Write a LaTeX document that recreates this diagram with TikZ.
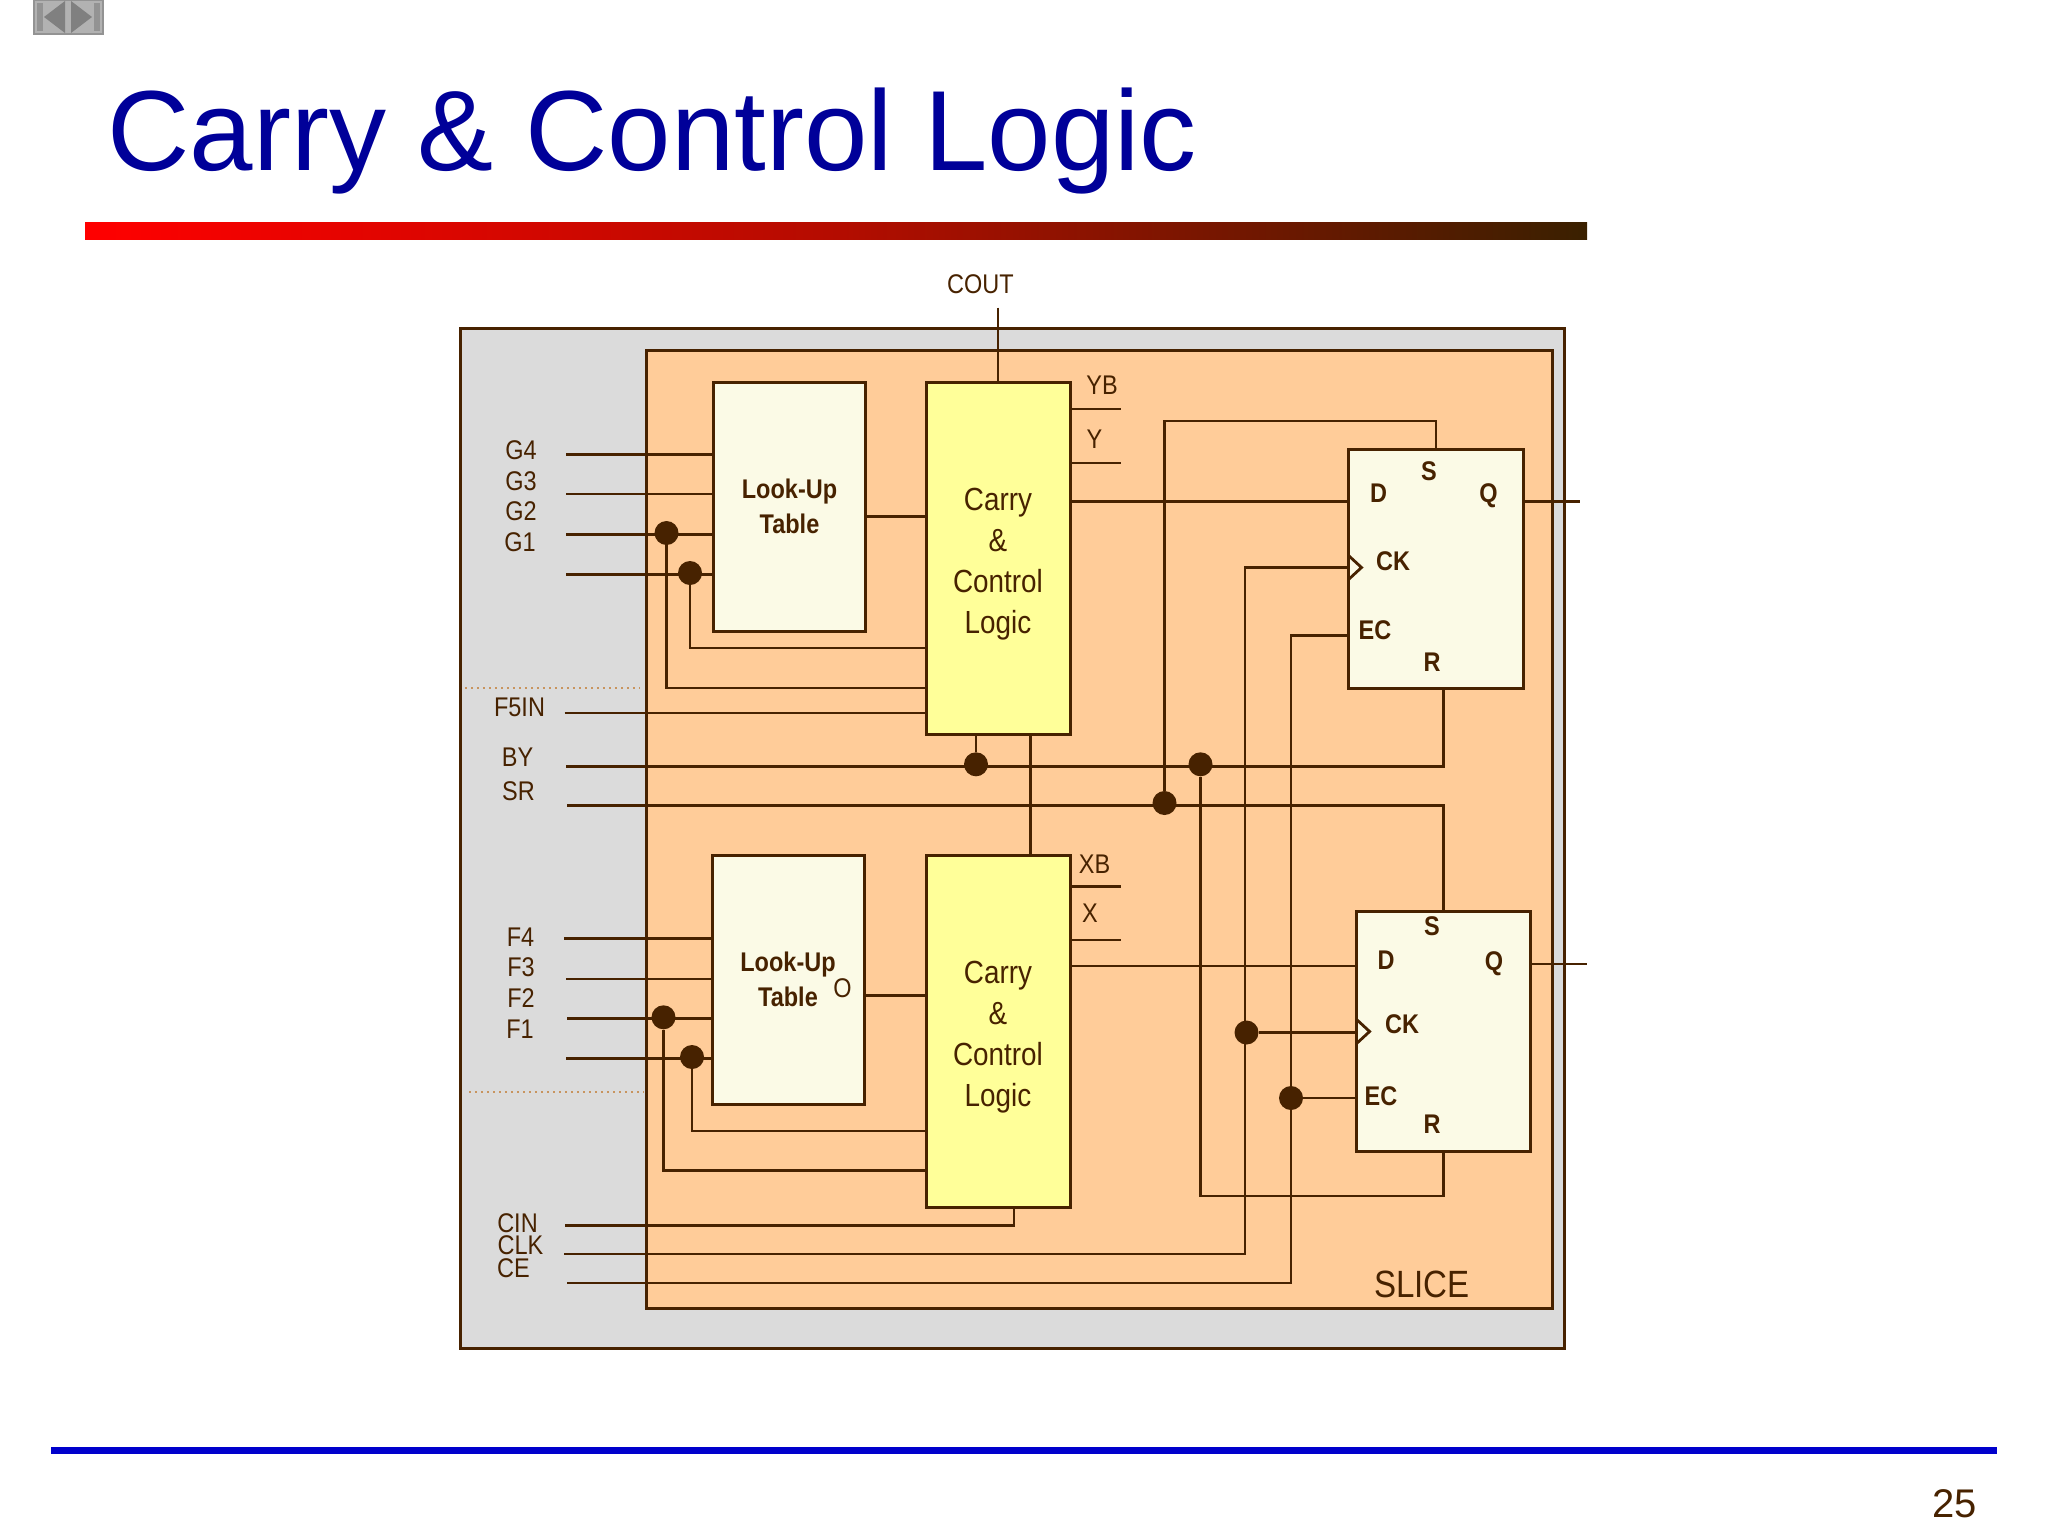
\documentclass[tikz,border=0pt]{standalone}
\usepackage{fontspec}
\setmainfont{Liberation Sans}
\newfontfamily\slimfont[FakeStretch=0.87]{Liberation Sans}
\usetikzlibrary{positioning}
\definecolor{wirecol}{HTML}{472200}
\definecolor{titlecol}{HTML}{000099}
\definecolor{rulecol}{HTML}{0000CC}
\definecolor{darkbar}{HTML}{3A2000}
\definecolor{dotcol}{HTML}{C8945E}
\definecolor{lutcol}{HTML}{FBFAE6}
\definecolor{carrycol}{HTML}{FFFF99}
\definecolor{slicecol}{HTML}{FFCC99}
\tikzset{
  wire/.style={color=wirecol,line width=1.4pt},
  frame/.style={draw=wirecol,line width=1.5pt},
  block/.style={draw=wirecol,line width=1.5pt,outer sep=0pt,inner sep=0pt,align=center,text=wirecol},
  lutbox/.style={block,fill=lutcol,minimum width=76pt,minimum height=124.5pt,
    font=\slimfont\bfseries\fontsize{13.5}{17.2}\selectfont},
  carrybox/.style={block,fill=carrycol,minimum width=72pt,minimum height=176pt,
    font=\slimfont\fontsize{16}{20.5}\selectfont},
  ffbox/.style={block,fill=lutcol},
  dot/.style={circle,fill=wirecol,inner sep=0pt,minimum size=12pt},
  pin/.style={text=wirecol,inner sep=0pt,font=\slimfont\fontsize{13.5}{14}\selectfont},
  ffpin/.style={text=wirecol,inner sep=0pt,font=\slimfont\bfseries\fontsize{13.5}{15}\selectfont},
}
\begin{document}
\begin{tikzpicture}[x=0.5pt,y=-0.5pt,line join=miter]
  \useasboundingbox (0,0) rectangle (2048,1536);
  % slide furniture
  \fill[color=gray!60] (33,0) rectangle (103,35);
  \draw[color=gray!85,line width=1pt] (33.5,0) rectangle (102.5,34.5);
  \fill[color=gray!85] (37,3) rectangle (43,31);
  \fill[color=gray!85] (94,3) rectangle (100,31);
  \fill[color=gray] (44,17) -- (65,1) -- (65,33) -- cycle;
  \fill[color=gray] (92,17) -- (71,1) -- (71,33) -- cycle;
  \node[anchor=base west,inner sep=0pt,text=titlecol,font=\fontsize{57}{60}\selectfont] (title) at (107,170) {Carry \& Control Logic};
  \shade[left color=red,right color=darkbar,middle color=red!62!darkbar] (85,222) rectangle (1587,239);
  \fill[color=rulecol] (51,1447) rectangle (1997,1454);
  \node[anchor=base east,inner sep=0pt,text=wirecol,font=\fontsize{20}{22}\selectfont] (pageno) at (1977,1517) {25};

  \draw[frame,fill=black!14] (460.5,328.5) rectangle (1564,1348);
  \draw[frame,fill=slicecol] (646,350.5) rectangle (1552.5,1308);
  \draw[dotted,color=dotcol,line width=1pt] (465,688) -- (640,688);
  \draw[dotted,color=dotcol,line width=1pt] (469,1091.7) -- (644,1091.7);

  % blocks
  \node[lutbox] (luttop) at (789.5,506.5) {Look-Up\\Table};
  \node[lutbox] (lutbot) at (788,979.5) {Look-Up\\Table};
  \node[carrybox] (carrytop) at (998,558) {\rule{0pt}{17pt}Carry\\\&\\Control\\Logic};
  \node[carrybox] (carrybot) at (998,1031) {\rule{0pt}{17pt}Carry\\\&\\Control\\Logic};
  \node[ffbox,minimum width=87.5pt,minimum height=119.5pt] (fftop) at (1436,568.5) {};
  \node[ffbox,minimum width=87pt,minimum height=120pt] (ffbot) at (1443.6,1031.3) {};

  % joints
  \node[dot] (dg1) at (666.5,533) {};
  \node[dot] (dg0) at (690,573) {};
  \node[dot] (df1) at (663.5,1017.3) {};
  \node[dot] (df0) at (692,1057) {};
  \node[dot] (dby) at (976,764.3) {};
  \node[dot] (dr) at (1200.5,764.3) {};
  \node[dot] (dsr) at (1164.5,803) {};
  \node[dot] (dck) at (1246.5,1032.5) {};
  \node[dot] (dec) at (1291,1098) {};

  % inputs running into the look-up tables
  \foreach \n/\xs/\ys in {g4/566/454.6,g3/566/494,g2/566/534.6,g0/566/574.3}
    \coordinate (\n) at (\xs,\ys);
  \foreach \n/\xs/\ys in {f4/564/938.8,f3/566/979,f2/567/1018.7,f0/566/1058.3}
    \coordinate (\n) at (\xs,\ys);
  \foreach \n in {g4,g3,g2,g0}
    \draw[wire] (\n) -- (\n -| luttop.west);
  \foreach \n in {f4,f3,f2,f0}
    \draw[wire] (\n) -- (\n -| lutbot.west);

  \coordinate (tg0) at (926,648);
  \coordinate (tg1) at (926,688);
  \coordinate (f5in) at (564.5,712.9);
  \coordinate (tf0) at (926,1131);
  \coordinate (tf1) at (926,1170.6);
  \draw[wire] (dg0) |- (tg0);
  \draw[wire] (dg1) |- (tg1);
  \draw[wire] (f5in) -- (f5in -| carrytop.west);
  \draw[wire] (df0) |- (tf0);
  \draw[wire] (df1) |- (tf1);
  \coordinate (lo1) at (luttop.east |- 0,516.4);
  \coordinate (lo2) at (lutbot.east |- 0,995.3);
  \draw[wire] (lo1) -- (lo1 -| carrytop.west);
  \draw[wire] (lo2) -- (lo2 -| carrybot.west);

  % carry chain
  \coordinate (coutend) at (998,307.7);
  \coordinate (cc) at (1030.6,734);
  \coordinate (cinin) at (565,1225.7);
  \coordinate (cinup) at (1014,1207.4);
  \draw[wire] (coutend) -- (carrytop.north);
  \draw[wire] (cc) -- (cc |- carrybot.north);
  \draw[wire] (cinin) -| (cinup);
  \draw[wire] (dby) -- (dby |- carrytop.south);

  % outputs
  \foreach \n/\ys in {yb/409,y/463}
    \coordinate (\n) at (1121,\ys);
  \foreach \n/\ys in {xb/886.8,x/939.9}
    \coordinate (\n) at (1121,\ys);
  \foreach \n in {yb,y}
    \draw[wire] (\n -| carrytop.east) -- (\n);
  \foreach \n in {xb,x}
    \draw[wire] (\n -| carrybot.east) -- (\n);
  \coordinate (d1) at (fftop.west |- 0,501.8);
  \coordinate (d2) at (ffbot.west |- 0,966);
  \coordinate (q1) at (1580,501.8);
  \coordinate (q2) at (1587,964);
  \draw[wire] (d1 -| carrytop.east) -- (d1);
  \draw[wire] (d2 -| carrybot.east) -- (d2);
  \draw[wire] (q1 -| fftop.east) -- (q1);
  \draw[wire] (q2 -| ffbot.east) -- (q2);

  % control lines
  \coordinate (byin) at (566,766.4);
  \coordinate (srin) at (567,805.7);
  \coordinate (rtop) at (1443.3,688);
  \coordinate (stop) at (1436,421);
  \coordinate (rbot) at (1443.6,1196);
  \draw[wire] (byin) -| (rtop);
  \draw[wire] (srin) -| (ffbot.north);
  \draw[wire] (dsr) |- (stop) -- (fftop.north);
  \draw[wire] (dr) |- (rbot) -- (ffbot.south);
  \coordinate (clkin) at (564,1254);
  \coordinate (cein) at (567,1283);
  \coordinate (ck1) at (fftop.west |- 0,567.5);
  \coordinate (ck2) at (ffbot.west |- 0,1031.5);
  \coordinate (ec1) at (fftop.west |- 0,635.7);
  \coordinate (ckup) at (1245,567.5);
  \coordinate (ecup) at (1291,635.7);
  \draw[wire] (clkin) -| (ckup) -- (ck1);
  \draw[wire] (cein) -| (ecup) -- (ec1);
  \draw[wire] (dck) -- (dck -| ffbot.west);
  \draw[wire] (dec) -- (dec -| ffbot.west);
  \foreach \c in {ck1,ck2}
    \draw[wire] (\c) ++(0,-12) -- ++(13,12) -- ++(-13,12);

  % pin names
  \foreach \n/\t/\xs/\ys in {lg4/G4/521/450,lg3/G3/521/481,lg2/G2/521/511.5,lg1/G1/520/542,
      lf5/F5IN/519.5/707.5,lby/BY/517.5/757.5,lsr/SR/518.5/791.5,
      lf4/F4/520.5/937,lf3/F3/521/967.5,lf2/F2/521/998.5,lf1/F1/520/1029,
      lcin/CIN/517.5/1223,lclk/CLK/520.5/1245,lce/CE/513.5/1268,
      lcout/COUT/980.5/284,lyb/YB/1102/385,ly/Y/1094.5/439.5,
      lxb/XB/1094.5/864,lx/X/1090/913.5,lo/O/842.5/988}
    \node[pin] (\n) at (\xs,\ys) {\t};
  \foreach \n/\t/\xs/\ys in {ad/D/1378.5/493,as/S/1429/471,aq/Q/1488.5/496,ack/CK/1393/561,aec/EC/1375/630,ar/R/1432/662,
      bd/D/1386/960.5,bs/S/1432/926,bq/Q/1494/964,bck/CK/1402/1024,bec/EC/1381/1096.5,br/R/1432/1124}
    \node[ffpin] (\n) at (\xs,\ys) {\t};
  \node[text=wirecol,inner sep=0pt,font=\slimfont\fontsize{19}{22}\selectfont] (slicename) at (1422,1284) {SLICE};
\end{tikzpicture}
\end{document}
